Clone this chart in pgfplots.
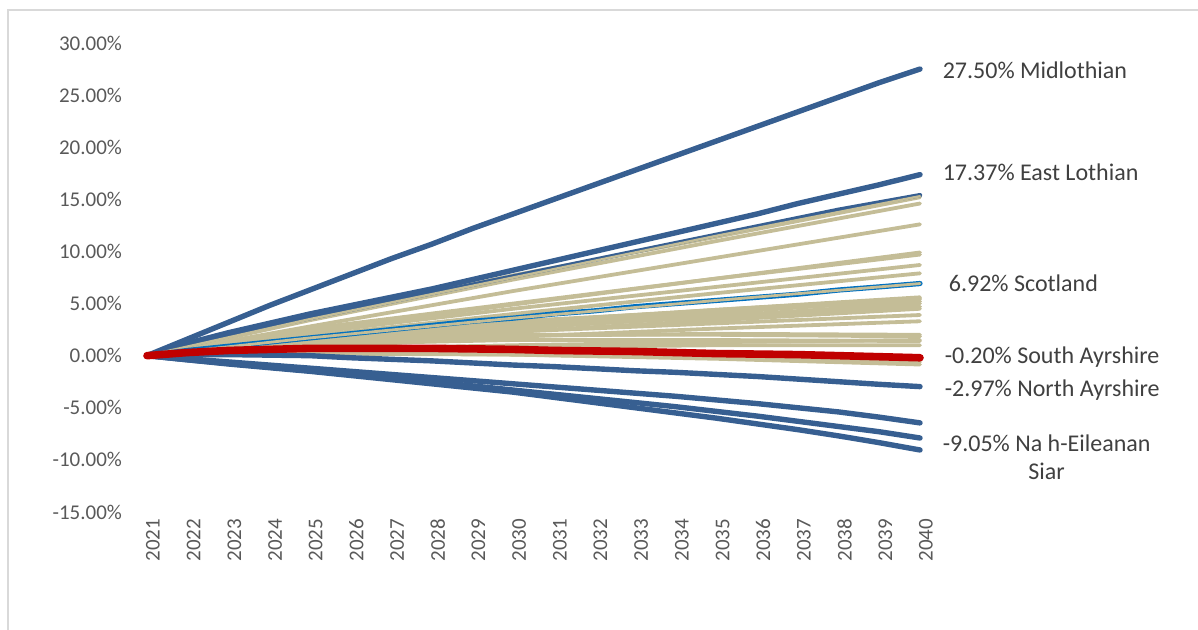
\documentclass[border=0pt]{standalone}
\usepackage{pgfplots}
\pgfplotsset{compat=1.18}
\usepackage{fontspec}
\setmainfont{Carlito}
\definecolor{dblue}{RGB}{55,95,145}
\definecolor{tan}{RGB}{196,189,151}
\definecolor{sred}{RGB}{192,0,0}
\definecolor{scot}{RGB}{0,112,192}
\definecolor{ticklab}{RGB}{89,89,89}
\definecolor{lab}{RGB}{64,64,64}
\tikzset{lbl/.style={anchor=west, font=\fontsize{12}{14}\selectfont, text=lab, inner sep=0pt}}
\pgfplotsset{tanl/.style={color=tan, line width=1.9pt}, bluel/.style={color=dblue, line width=2.7pt}}
\begin{document}
\begin{tikzpicture}
\path[use as bounding box] (0,0) rectangle (599pt,315pt);
\draw[gray!30,line width=0.8pt] (4pt,0) -- (4pt,310pt) -- (599pt,310pt);
\begin{axis}[
  at={(73.5pt,59pt)}, anchor=south west,
  scale only axis, width=386.5pt, height=234.5pt,
  xmin=2021, xmax=2040, ymin=-15, ymax=30,
  axis line style={draw=none},
  tick style={draw=none},
  xtick={2021,...,2040},
  ytick={-15,-10,...,30},
  /pgf/number format/assume math mode=true,
  xticklabel={\pgfmathprintnumber[1000 sep={},fixed,precision=0]{\tick}},
  yticklabel={\pgfmathprintnumber[fixed,fixed zerofill,precision=2]{\tick}\%},
  xticklabel style={rotate=90, anchor=east, font=\fontsize{10.5}{12}\selectfont, text=ticklab, yshift=-3pt},
  yticklabel style={anchor=east, font=\fontsize{10.5}{12}\selectfont, text=ticklab, xshift=-9pt},
  clip=false,
  every axis plot/.append style={line join=round, line cap=round},
]
% tan lines (other council areas)
\addplot[tanl] coordinates {(2021,0)(2025,3.5)(2030,7.7)(2035,11.4)(2040,15.2)};
\addplot[tanl] coordinates {(2021,0)(2025,3.4)(2030,7.3)(2035,11.0)(2040,14.6)};
\addplot[tanl] coordinates {(2021,0)(2025,2.8)(2030,6.2)(2035,9.4)(2040,12.6)};
\addplot[tanl] coordinates {(2021,0)(2025,2.3)(2030,4.9)(2035,7.4)(2040,9.9)};
\addplot[tanl] coordinates {(2021,0)(2025,2.6)(2030,5.0)(2035,7.4)(2040,9.7)};
\addplot[tanl] coordinates {(2021,0)(2025,2.2)(2030,4.5)(2035,6.6)(2040,8.7)};
\addplot[tanl] coordinates {(2021,0)(2025,1.9)(2030,4.0)(2035,6.0)(2040,7.9)};
\addplot[tanl] coordinates {(2021,0)(2025,1.6)(2030,3.1)(2035,4.4)(2040,5.6)};
\addplot[tanl] coordinates {(2021,0)(2025,1.8)(2030,3.2)(2035,4.4)(2040,5.5)};
\addplot[tanl] coordinates {(2021,0)(2025,1.4)(2030,2.8)(2035,4.1)(2040,5.4)};
\addplot[tanl] coordinates {(2021,0)(2025,1.9)(2030,3.3)(2035,4.3)(2040,5.2)};
\addplot[tanl] coordinates {(2021,0)(2025,1.2)(2030,2.6)(2035,3.8)(2040,5.0)};
\addplot[tanl] coordinates {(2021,0)(2025,1.5)(2030,2.7)(2035,3.7)(2040,4.7)};
\addplot[tanl] coordinates {(2021,0)(2025,1.0)(2030,2.3)(2035,3.4)(2040,4.5)};
\addplot[tanl] coordinates {(2021,0)(2025,1.3)(2030,2.3)(2035,3.1)(2040,3.9)};
\addplot[tanl] coordinates {(2021,0)(2025,0.8)(2030,1.8)(2035,2.6)(2040,3.3)};
\addplot[tanl] coordinates {(2021,0)(2025,1.2)(2030,1.9)(2035,2.1)(2040,2.0)};
\addplot[tanl] coordinates {(2021,0)(2025,1.4)(2030,2.0)(2035,2.0)(2040,1.85)};
\addplot[tanl] coordinates {(2021,0)(2025,0.6)(2030,1.0)(2035,1.3)(2040,1.5)};
\addplot[tanl] coordinates {(2021,0)(2025,1.1)(2030,1.5)(2035,1.5)(2040,1.4)};
\addplot[tanl] coordinates {(2021,0)(2025,0.5)(2030,0.8)(2035,1.0)(2040,1.0)};
\addplot[tanl] coordinates {(2021,0)(2025,0.2)(2030,0.1)(2035,-0.2)(2040,-0.6)};
\addplot[tanl] coordinates {(2021,0)(2025,0.3)(2030,0.1)(2035,-0.3)(2040,-0.85)};
% dark blue lines
\addplot[bluel] table {
2021 0
2022 1.6
2023 3.2
2024 4.8
2025 6.3
2026 7.8
2027 9.3
2028 10.7
2029 12.2
2030 13.6
2031 15.0
2032 16.4
2033 17.8
2034 19.2
2035 20.6
2036 22.0
2037 23.4
2038 24.8
2039 26.2
2040 27.5
};
\addplot[bluel] table {
2021 0
2022 1.2
2023 2.2
2024 3.1
2025 4.0
2026 4.8
2027 5.6
2028 6.4
2029 7.3
2030 8.2
2031 9.1
2032 10.0
2033 10.9
2034 11.8
2035 12.7
2036 13.6
2037 14.6
2038 15.5
2039 16.4
2040 17.37
};
\addplot[color=dblue, line width=2.2pt] table {
2021 0
2022 1.0
2023 1.9
2024 2.8
2025 3.6
2026 4.4
2027 5.2
2028 6.0
2029 6.8
2030 7.6
2031 8.4
2032 9.2
2033 10.0
2034 10.8
2035 11.6
2036 12.4
2037 13.2
2038 14.0
2039 14.7
2040 15.4
};
\addplot[tanl, line width=1.2pt] coordinates {(2021,0)(2025,3.5)(2030,7.5)(2035,11.5)(2040,15.3)};
% North Ayrshire
\addplot[bluel] table {
2021 0
2022 0.1
2023 0.1
2024 0.05
2025 0
2026 -0.2
2027 -0.35
2028 -0.5
2029 -0.7
2030 -0.9
2031 -1.05
2032 -1.25
2033 -1.45
2034 -1.6
2035 -1.8
2036 -2.0
2037 -2.25
2038 -2.5
2039 -2.75
2040 -2.97
};
\addplot[bluel] table {
2021 0
2022 -0.3
2023 -0.6
2024 -0.9
2025 -1.2
2026 -1.5
2027 -1.8
2028 -2.1
2029 -2.4
2030 -2.7
2031 -3.0
2032 -3.3
2033 -3.6
2034 -3.9
2035 -4.25
2036 -4.6
2037 -5.0
2038 -5.4
2039 -5.9
2040 -6.45
};
\addplot[bluel] table {
2021 0
2022 -0.4
2023 -0.75
2024 -1.1
2025 -1.45
2026 -1.8
2027 -2.15
2028 -2.5
2029 -2.9
2030 -3.3
2031 -3.7
2032 -4.1
2033 -4.5
2034 -4.9
2035 -5.35
2036 -5.8
2037 -6.3
2038 -6.8
2039 -7.3
2040 -7.9
};
\addplot[bluel] table {
2021 0
2022 -0.4
2023 -0.8
2024 -1.15
2025 -1.5
2026 -1.9
2027 -2.3
2028 -2.7
2029 -3.1
2030 -3.5
2031 -4.0
2032 -4.5
2033 -5.0
2034 -5.5
2035 -6.0
2036 -6.55
2037 -7.1
2038 -7.7
2039 -8.35
2040 -9.05
};
% Scotland
\addplot[color=scot, line width=2.6pt] table {
2021 0
2022 0.5
2023 0.9
2024 1.3
2025 1.7
2026 2.1
2027 2.5
2028 2.9
2029 3.3
2030 3.6
2031 4.0
2032 4.3
2033 4.7
2034 5.0
2035 5.3
2036 5.6
2037 5.9
2038 6.3
2039 6.6
2040 6.92
};
\addplot[tanl, line width=1.4pt] coordinates {(2021,0)(2025,1.7)(2030,3.6)(2035,5.3)(2040,6.92)};
% South Ayrshire
\addplot[color=sred, line width=3.8pt] table {
2021 0
2022 0.3
2023 0.5
2024 0.6
2025 0.7
2026 0.7
2027 0.7
2028 0.7
2029 0.65
2030 0.6
2031 0.5
2032 0.45
2033 0.4
2034 0.3
2035 0.2
2036 0.15
2037 0.1
2038 0.0
2039 -0.1
2040 -0.2
};
% labels
\node[lbl] at (axis cs:2040.55,27.4) {27.50\% Midlothian};
\node[lbl] at (axis cs:2040.55,17.55) {17.37\% East Lothian};
\node[lbl] at (axis cs:2040.7,6.9) {6.92\% Scotland};
\node[lbl] at (axis cs:2040.6,-0.1) {-0.20\% South Ayrshire};
\node[lbl] at (axis cs:2040.6,-3.3) {-2.97\% North Ayrshire};
\node[lbl, align=center] at (axis cs:2040.55,-9.7) {-9.05\% Na h-Eileanan\\Siar};
\end{axis}
\end{tikzpicture}
\end{document}
